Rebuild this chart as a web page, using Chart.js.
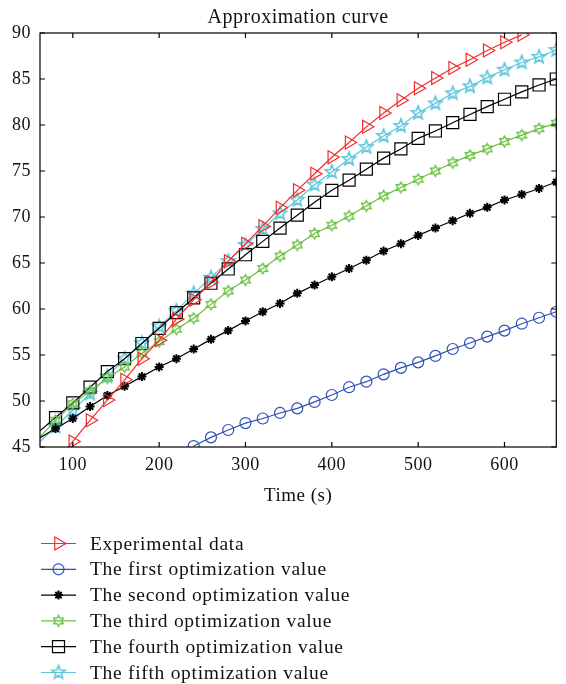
<!DOCTYPE html>
<html>
<head>
<meta charset="utf-8">
<script src="https://cdn.jsdelivr.net/npm/chart.js@4.4.1/dist/chart.umd.min.js"></script>
<style>
  html, body { margin: 0; padding: 0; background: #fff; }
  canvas { display: block; }
</style>
</head>
<body>
<canvas id="approxChart" width="566" height="684"></canvas>
<script>
// time axis (s), one mark every 20 s
const times = [60, 80, 100, 120, 140, 160, 180, 200, 220, 240, 260, 280, 300, 320, 340, 360,
  380, 400, 420, 440, 460, 480, 500, 520, 540, 560, 580, 600, 620, 640, 660];

const experimental = [null, 43.3, 45.6, 47.9, 50.1, 52.3, 54.6, 56.6, 58.9, 61.0, 62.9, 65.2, 67.1, 69.0, 71.0, 72.9,
  74.7, 76.5, 78.1, 79.8, 81.3, 82.7, 84.0, 85.1, 86.2, 87.1, 88.1, 89.0, 89.8, null, null];
const firstOpt = [null, null, null, null, null, null, null, null, null, 45.1, 46.05, 46.85, 47.6, 48.1, 48.7, 49.2,
  49.9, 50.65, 51.5, 52.1, 52.9, 53.6, 54.2, 54.9, 55.65, 56.3, 57.0, 57.65, 58.4, 59.05, 59.7];
const secondOpt = [45.9, 47.0, 48.1, 49.4, 50.6, 51.6, 52.65, 53.7, 54.6, 55.65, 56.7, 57.65, 58.7, 59.7, 60.6, 61.7,
  62.6, 63.5, 64.4, 65.3, 66.3, 67.1, 68.0, 68.8, 69.6, 70.4, 71.05, 71.85, 72.45, 73.1, 73.8];
const thirdOpt = [45.9, 47.9, 49.7, 51.1, 52.5, 53.7, 55.2, 56.45, 57.8, 59.0, 60.5, 61.95, 63.15, 64.4, 65.75, 66.95,
  68.2, 69.1, 70.1, 71.2, 72.3, 73.2, 74.1, 75.0, 75.9, 76.7, 77.4, 78.2, 78.9, 79.6, 80.2];
const fourthOpt = [46.6, 48.2, 49.8, 51.5, 53.2, 54.6, 56.25, 57.9, 59.6, 61.2, 62.8, 64.35, 65.9, 67.35, 68.8, 70.2,
  71.6, 72.9, 74.0, 75.2, 76.4, 77.4, 78.55, 79.35, 80.25, 81.15, 82.0, 82.8, 83.6, 84.35, 85.0];
const fifthOpt = [45.4, 47.2, 49.0, 50.8, 52.65, 54.6, 56.3, 58.1, 59.8, 61.7, 63.4, 65.2, 66.95, 68.7, 70.4, 71.85,
  73.5, 74.9, 76.3, 77.6, 78.8, 79.9, 81.3, 82.35, 83.45, 84.2, 85.15, 86.0, 86.8, 87.4, 88.15];

const seriesNames = ['Experimental data', 'The first optimization value', 'The second optimization value',
  'The third optimization value', 'The fourth optimization value', 'The fifth optimization value'];
const xTicks = [100, 200, 300, 400, 500, 600];

const SERIF = '"Liberation Serif", "DejaVu Serif", serif';

// outline star used as marker image
function starMarker(n, outer, inner, color, lw) {
  const size = Math.ceil(2 * outer + lw + 2);
  const c = document.createElement('canvas');
  c.width = size; c.height = size;
  const g = c.getContext('2d');
  g.translate(size / 2, size / 2);
  g.beginPath();
  for (let i = 0; i < 2 * n; i++) {
    const r = i % 2 ? inner : outer;
    const a = -Math.PI / 2 + i * Math.PI / n;
    g.lineTo(r * Math.cos(a), r * Math.sin(a));
  }
  g.closePath();
  g.strokeStyle = color;
  g.lineWidth = lw;
  g.stroke();
  return c;
}

const RED = '#f22b2b', BLUE = '#2d50b4', GREEN = '#69bf3e', CYAN = '#5ec6da';

function toPoints(vals) {
  const pts = [];
  vals.forEach((v, i) => { if (v !== null) pts.push({ x: times[i], y: v }); });
  return pts;
}

function mkSet(label, vals, color, style, radius, rotation, bw) {
  return {
    label: label,
    data: toPoints(vals),
    borderColor: color,
    borderWidth: 1.2,
    backgroundColor: 'rgba(0,0,0,0)',
    pointStyle: style,
    pointRotation: rotation,
    pointBorderWidth: bw,
    pointBorderColor: color,
    pointBackgroundColor: style === 'star' ? color : 'rgba(0,0,0,0)',
    pointRadius: ctx => (ctx.raw && ctx.raw.x < 62 ? 0 : radius),
    tension: 0,
    fill: false
  };
}

const datasets = [
  mkSet(seriesNames[0], experimental, RED, 'triangle', 7.5, 90, 1.2),
  mkSet(seriesNames[1], firstOpt, BLUE, 'circle', 5.5, 0, 1.2),
  mkSet(seriesNames[2], secondOpt, '#000', 'star', 4.5, 0, 2),
  mkSet(seriesNames[3], thirdOpt, GREEN, starMarker(6, 5.5, 3.2, GREEN, 1.3), 5.5, 0, 1.3),
  mkSet(seriesNames[4], fourthOpt, '#000', 'rect', 8.5, 0, 1.2),
  mkSet(seriesNames[5], fifthOpt, CYAN, starMarker(5, 7, 3, CYAN, 1.6), 7, 0, 1.6)
];

// box frame with inward ticks on all four sides
const frameTicks = {
  id: 'frameTicks',
  afterDatasetsDraw(chart) {
    const { ctx, chartArea: a, scales: { x, y } } = chart;
    ctx.save();
    ctx.strokeStyle = '#000';
    ctx.lineWidth = 1.2;
    ctx.strokeRect(a.left, a.top, a.right - a.left, a.bottom - a.top);
    ctx.beginPath();
    x.ticks.forEach(t => {
      const px = x.getPixelForValue(t.value);
      ctx.moveTo(px, a.bottom); ctx.lineTo(px, a.bottom - 5);
      ctx.moveTo(px, a.top); ctx.lineTo(px, a.top + 5);
    });
    y.ticks.forEach(t => {
      const py = y.getPixelForValue(t.value);
      ctx.moveTo(a.left, py); ctx.lineTo(a.left + 5, py);
      ctx.moveTo(a.right, py); ctx.lineTo(a.right - 5, py);
    });
    ctx.stroke();
    ctx.restore();
  }
};

// legend below the axes: line sample with marker, then label
const lineLegend = {
  id: 'lineLegend',
  afterDraw(chart) {
    const ctx = chart.ctx;
    ctx.save();
    chart.data.datasets.forEach((ds, i) => {
      const yy = 543.5 + i * 25.8;
      ctx.strokeStyle = ds.borderColor;
      ctx.lineWidth = 1.2;
      ctx.beginPath();
      ctx.moveTo(41, yy); ctx.lineTo(76, yy);
      ctx.stroke();
      ctx.fillStyle = ds.pointBackgroundColor;
      ctx.lineWidth = ds.pointBorderWidth;
      const r = typeof ds.pointRadius === 'function' ? ds.pointRadius({ raw: { x: 100 } }) : ds.pointRadius;
      Chart.helpers.drawPoint(ctx, {
        pointStyle: ds.pointStyle, rotation: ds.pointRotation, radius: r, borderWidth: ds.pointBorderWidth
      }, 58.5, yy);
      ctx.fillStyle = '#111';
      ctx.font = '19.5px ' + SERIF;
      ctx.letterSpacing = '0.7px';
      ctx.textBaseline = 'middle';
      ctx.textAlign = 'left';
      ctx.fillText(ds.label, 90, yy + 1);
    });
    ctx.restore();
  }
};

const spacing = {
  id: 'spacing',
  beforeDraw(chart) { chart.ctx.letterSpacing = '0.5px'; }
};

new Chart(document.getElementById('approxChart').getContext('2d'), {
  type: 'line',
  data: { datasets: datasets },
  plugins: [frameTicks, lineLegend, spacing],
  options: {
    responsive: false,
    animation: false,
    devicePixelRatio: 1,
    layout: { padding: { left: 0, right: 3, top: 0, bottom: 177 } },
    plugins: {
      legend: { display: false },
      tooltip: { enabled: false },
      title: {
        display: true,
        fullSize: false,
        text: 'Approximation curve',
        color: '#111',
        font: { family: SERIF, size: 20, weight: 'normal', lineHeight: 1.2 },
        padding: { top: 6, bottom: 3 }
      }
    },
    scales: {
      x: {
        type: 'linear',
        min: 62,
        max: 660,
        afterBuildTicks: s => { s.ticks = xTicks.map(v => ({ value: v })); },
        afterFit: s => { s.height = 60; },
        grid: { display: false, drawTicks: false },
        border: { display: false },
        ticks: { color: '#111', padding: 7, maxRotation: 0, font: { family: SERIF, size: 18 } },
        title: {
          display: true,
          text: 'Time (s)',
          color: '#111',
          font: { family: SERIF, size: 19, lineHeight: 1.2 },
          padding: { top: 0, bottom: 0 }
        }
      },
      y: {
        min: 45,
        max: 90,
        afterFit: s => { s.width = 40; },
        grid: { display: false, drawTicks: false },
        border: { display: false },
        ticks: { stepSize: 5, color: '#111', padding: 9, font: { family: SERIF, size: 18 } }
      }
    }
  }
});
</script>
</body>
</html>
